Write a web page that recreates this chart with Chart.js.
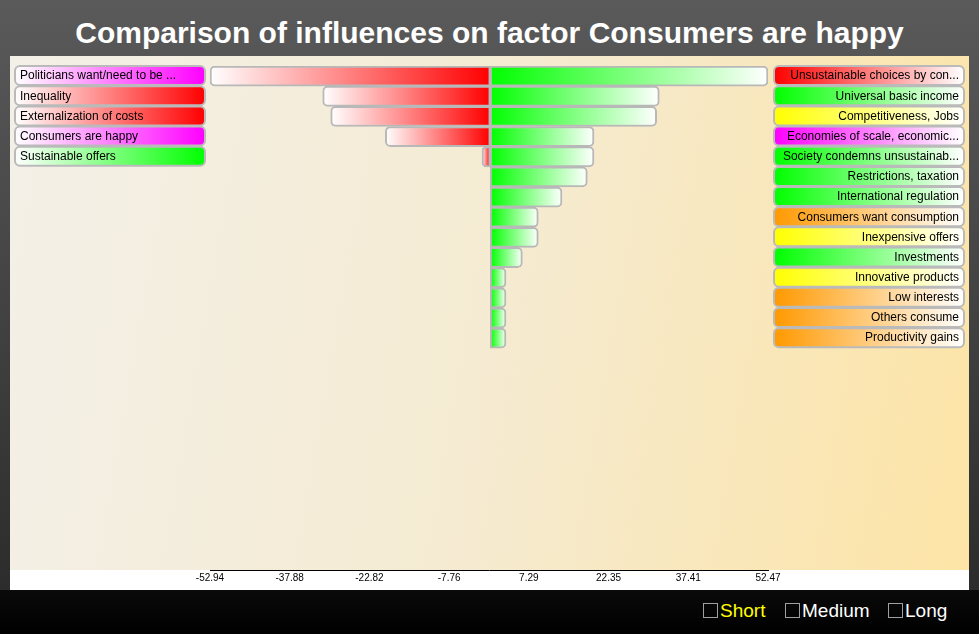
<!DOCTYPE html>
<html>
<head>
<meta charset="utf-8">
<script src="https://cdn.jsdelivr.net/npm/chart.js@4"></script>
<style>
    body {
        margin: 0;
        width: 979px;
        height: 634px;
        overflow: hidden;
        position: relative;
        font-family: "Liberation Sans", Arial, sans-serif;
        background: linear-gradient(to bottom, #5a5a5a 0px, #2c2c2c 590px, #0a0a0a 590px, #000 634px);
    }
    #title {
        position: absolute;
        left: 0;
        top: 14px;
        width: 979px;
        text-align: center;
        color: #fff;
        font-weight: bold;
        font-size: 30px;
        line-height: 38px;
    }
    #panel {
        position: absolute;
        left: 10px;
        top: 56px;
        width: 959px;
        height: 514px;
        background: linear-gradient(100deg, #f3f0e8 0%, #f5ebd2 50%, #fde4a6 100%);
    }
    #strip {
        position: absolute;
        left: 10px;
        top: 570px;
        width: 959px;
        height: 20px;
        background: #fff;
    }
    #chart {
        position: absolute;
        left: 0;
        top: 56px;
    }
    .opt {
        position: absolute;
        top: 599px;
        font-size: 19px;
        line-height: 24px;
        color: #fff;
    }
    .opt span.box {
        display: inline-block;
        width: 13px;
        height: 13px;
        border: 1px solid #a0a0a0;
        vertical-align: -1px;
        margin-right: 2px;
    }
</style>
</head>
<body>
<div id="title">Comparison of influences on factor Consumers are happy</div>
<div id="panel"></div>
<div id="strip"></div>
<canvas id="chart" width="979" height="534"></canvas>
<div class="opt" style="left:703px;color:#ffff00"><span class="box"></span>Short</div>
<div class="opt" style="left:785px"><span class="box"></span>Medium</div>
<div class="opt" style="left:888px"><span class="box"></span>Long</div>

<script>
// factors pushing down (left side)
const leftLabels = [
    'Politicians want/need to be ...',
    'Inequality',
    'Externalization of costs',
    'Consumers are happy',
    'Sustainable offers'
];
const leftColors = ['#ff00ff', '#ff0000', '#ff0000', '#ff00ff', '#00ff00'];
const leftValues = [-52.94, -31.65, -30.14, -19.82, -1.56];

// factors pushing up (right side)
const rightLabels = [
    'Unsustainable choices by con...',
    'Universal basic income',
    'Competitiveness, Jobs',
    'Economies of scale, economic...',
    'Society condemns unsustainab...',
    'Restrictions, taxation',
    'International regulation',
    'Consumers want consumption',
    'Inexpensive offers',
    'Investments',
    'Innovative products',
    'Low interests',
    'Others consume',
    'Productivity gains'
];
const rightColors = ['#ff0000', '#00ff00', '#ffff00', '#ff00ff', '#00ff00', '#00ff00', '#00ff00',
    '#ff9900', '#ffff00', '#00ff00', '#ffff00', '#ff9900', '#ff9900', '#ff9900'];
const rightValues = [52.47, 31.94, 31.44, 19.6, 19.6, 18.34, 13.56, 9.08, 9.08, 6.07, 2.98, 2.98, 2.98, 2.98];

const tickValues = [-52.94, -37.88, -22.82, -7.76, 7.29, 22.35, 37.41, 52.47];
const tickLabels = ['-52.94', '-37.88', '-22.82', '-7.76', '7.29', '22.35', '37.41', '52.47'];

const ROWS = 25;

function pad(arr) {
    let out = arr.slice();
    while (out.length < ROWS) out.push('');
    return out;
}

function roundRect(ctx, x, y, w, h, r) {
    ctx.beginPath();
    ctx.moveTo(x + r, y);
    ctx.lineTo(x + w - r, y);
    ctx.arcTo(x + w, y, x + w, y + r, r);
    ctx.lineTo(x + w, y + h - r);
    ctx.arcTo(x + w, y + h, x + w - r, y + h, r);
    ctx.lineTo(x + r, y + h);
    ctx.arcTo(x, y + h, x, y + h - r, r);
    ctx.lineTo(x, y + r);
    ctx.arcTo(x, y, x + r, y, r);
    ctx.closePath();
}

function barGradient(context, color) {
    if (context.type !== 'data' || context.raw == null) return color;
    const x = context.chart.scales.x;
    const p0 = x.getPixelForValue(0);
    const p1 = x.getPixelForValue(context.raw);
    if (!isFinite(p0) || !isFinite(p1) || p0 === p1) return color;
    const g = context.chart.ctx.createLinearGradient(p1, 0, p0, 0);
    g.addColorStop(0, '#ffffff');
    g.addColorStop(1, color);
    return g;
}

// label boxes behind the axis labels
const labelBoxes = {
    id: 'labelBoxes',
    beforeDraw(chart) {
        const ctx = chart.ctx;
        const drawSide = (scale, colors, x0, x1, whiteLeft) => {
            colors.forEach((c, i) => {
                const yc = scale.getPixelForValue(i);
                const top = yc - 10;
                const g = ctx.createLinearGradient(x0, 0, x1, 0);
                g.addColorStop(0, whiteLeft ? '#ffffff' : c);
                g.addColorStop(1, whiteLeft ? c : '#ffffff');
                ctx.save();
                roundRect(ctx, x0, top, x1 - x0, 19, 5);
                ctx.fillStyle = g;
                ctx.fill();
                ctx.lineWidth = 2;
                ctx.strokeStyle = '#bababa';
                ctx.stroke();
                ctx.restore();
            });
        };
        drawSide(chart.scales.y, leftColors, 15, 205, true);
        drawSide(chart.scales.y2, rightColors, 774, 964, false);
    }
};

function renderChart() {
    new Chart(document.getElementById('chart'), {
        type: 'bar',
        data: {
            labels: pad(rightLabels),
            datasets: [{
                label: 'Negative',
                data: leftValues,
                grouped: false,
                backgroundColor: ctx => barGradient(ctx, '#ff0000'),
                borderColor: '#b8b8b8',
                borderWidth: 2,
                borderSkipped: false,
                borderRadius: {topLeft: 5, bottomLeft: 5, topRight: 0, bottomRight: 0},
                barPercentage: 1,
                categoryPercentage: 1
            }, {
                label: 'Positive',
                data: rightValues,
                grouped: false,
                backgroundColor: ctx => barGradient(ctx, '#00ff00'),
                borderColor: '#b8b8b8',
                borderWidth: 2,
                borderSkipped: false,
                borderRadius: {topLeft: 0, bottomLeft: 0, topRight: 5, bottomRight: 5},
                barPercentage: 1,
                categoryPercentage: 1
            }]
        },
        options: {
            indexAxis: 'y',
            responsive: false,
            animation: false,
            layout: {padding: {left: 20, right: 20, top: 10, bottom: 0}},
            plugins: {
                legend: {display: false},
                tooltip: {enabled: false}
            },
            scales: {
                x: {
                    type: 'linear',
                    min: tickValues[0],
                    max: tickValues[tickValues.length - 1],
                    grid: {display: false, drawTicks: false},
                    border: {display: true, color: '#000', width: 1},
                    afterBuildTicks: scale => {
                        scale.ticks = tickValues.map(v => ({value: v}));
                    },
                    afterFit: scale => { scale.height = 20; },
                    ticks: {
                        autoSkip: false,
                        maxRotation: 0,
                        padding: 2,
                        color: '#000',
                        font: {family: '"Liberation Sans", Arial, sans-serif', size: 10},
                        callback: (value, index) => tickLabels[index]
                    }
                },
                y: {
                    type: 'category',
                    position: 'left',
                    labels: pad(leftLabels),
                    offset: true,
                    grid: {display: false, drawTicks: false},
                    border: {display: false},
                    afterFit: scale => { scale.width = 190; },
                    ticks: {
                        autoSkip: false,
                        crossAlign: 'far',
                        padding: 0,
                        color: '#000',
                        font: {family: '"Liberation Sans", Arial, sans-serif', size: 12}
                    }
                },
                y2: {
                    type: 'category',
                    position: 'right',
                    labels: pad(rightLabels),
                    offset: true,
                    grid: {display: false, drawTicks: false},
                    border: {display: false},
                    afterFit: scale => { scale.width = 191; },
                    ticks: {
                        autoSkip: false,
                        crossAlign: 'far',
                        padding: 0,
                        color: '#000',
                        font: {family: '"Liberation Sans", Arial, sans-serif', size: 12}
                    }
                }
            }
        },
        plugins: [labelBoxes]
    });
}

window.onload = renderChart;
</script>
</body>
</html>
